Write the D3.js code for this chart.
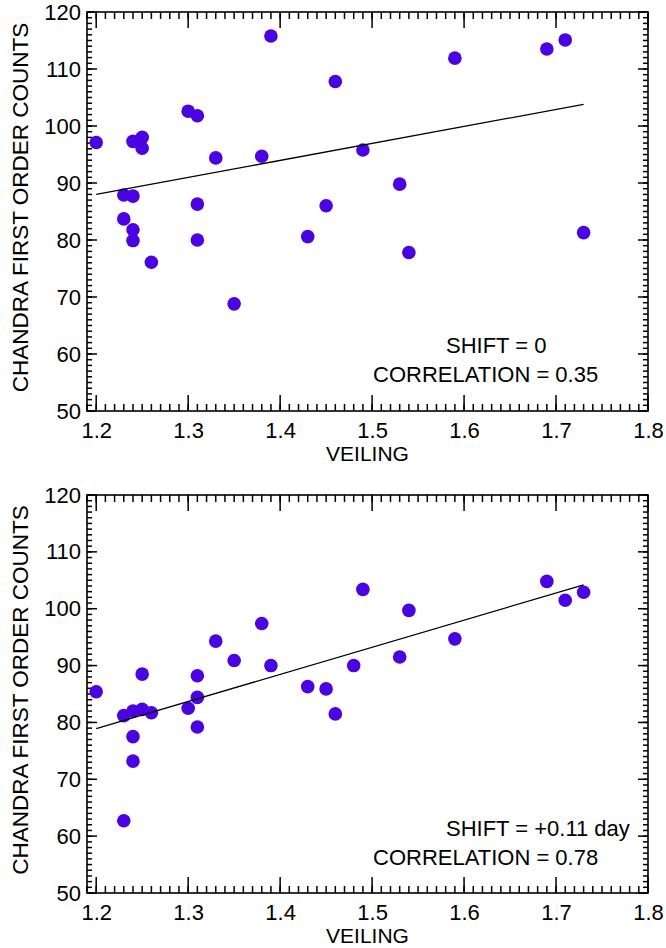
<!DOCTYPE html>
<html>
<head>
<meta charset="utf-8">
<script src="https://cdn.jsdelivr.net/npm/d3@7"></script>
<style>
  body { margin: 0; background: #fff; }
  svg { display: block; }
</style>
</head>
<body>
<svg id="chart" width="666" height="948"></svg>
<script>
// veiling vs chandra counts
var veilingTop = [1.20, 1.23, 1.24, 1.23, 1.24, 1.25, 1.25, 1.30, 1.31, 1.33, 1.38, 1.39, 1.31, 1.45,
                  1.46, 1.49, 1.53, 1.59, 1.69, 1.71, 1.24, 1.24, 1.26, 1.31, 1.35, 1.43, 1.54, 1.73];
var countsTop  = [97.1, 87.9, 87.7, 83.7, 97.3, 98.0, 96.1, 102.6, 101.8, 94.4, 94.7, 115.8, 86.3, 86.0,
                  107.8, 95.8, 89.8, 111.9, 113.5, 115.1, 81.8, 79.9, 76.1, 80.0, 68.8, 80.6, 77.8, 81.3];

var veilingBottom = [1.20, 1.23, 1.23, 1.24, 1.24, 1.24, 1.25, 1.25, 1.26, 1.30, 1.31, 1.31, 1.31, 1.33,
                     1.35, 1.38, 1.39, 1.43, 1.45, 1.46, 1.48, 1.49, 1.53, 1.54, 1.59, 1.69, 1.71, 1.73];
var countsBottom  = [85.4, 81.2, 62.7, 82.0, 77.5, 73.2, 88.5, 82.3, 81.7, 82.5, 88.2, 84.4, 79.2, 94.3,
                     90.9, 97.4, 90.0, 86.3, 85.9, 81.5, 90.0, 103.4, 91.5, 99.7, 94.7, 104.8, 101.5, 102.9];

// fitted lines (end points)
var fitTopX = [1.20, 1.73], fitTopY = [88.0, 103.8];
var fitBottomX = [1.20, 1.73], fitBottomY = [78.9, 104.2];

var xTickLabels = [1.2, 1.3, 1.4, 1.5, 1.6, 1.7, 1.8];
var yTickLabels = [50, 60, 70, 80, 90, 100, 110, 120];

var shiftLabels = ["SHIFT = 0", "SHIFT = +0.11 day"];
var corrLabels = ["CORRELATION = 0.35", "CORRELATION = 0.78"];

var FONT = "'Liberation Sans', Arial, Helvetica, sans-serif";
var FS = 22;
var DOT = "#4a04e2";

var svg = d3.select("#chart");

var left = 87, right = 648;

// ticks drawn by hand as plain lines, inward on all four sides
function tickComb(g, vals, scale, orient, pos, len){
    g.append("g").selectAll("line")
	.data(vals)
	.join("line")
	.attr("x1", function(d){ return orient === "h" ? scale(d) : pos; })
	.attr("x2", function(d){ return orient === "h" ? scale(d) : pos + len; })
	.attr("y1", function(d){ return orient === "h" ? pos : scale(d); })
	.attr("y2", function(d){ return orient === "h" ? pos + len : scale(d); })
	.attr("stroke", "#000")
	.attr("stroke-width", 1.5);
}

function drawPanel(top, bottom, xs, ys, fx, fy, shiftTxt, corrTxt){

    var x = d3.scaleLinear().domain([1.19, 1.8]).range([left, right]);
    var y = d3.scaleLinear().domain([50, 120]).range([bottom, top]);

    var xMinor = d3.range(119, 181, 1).map(function(v){ return v / 100; });
    var yMinor = d3.range(50, 121, 1);

    var g = svg.append("g");

    tickComb(g, xMinor, x, "h", bottom, -7);
    tickComb(g, xTickLabels, x, "h", bottom, -16);
    tickComb(g, xMinor, x, "h", top, 7);
    tickComb(g, xTickLabels, x, "h", top, 16);
    tickComb(g, yMinor, y, "v", left, 5);
    tickComb(g, yTickLabels, y, "v", left, 10);
    tickComb(g, yMinor, y, "v", right, -5);
    tickComb(g, yTickLabels, y, "v", right, -10);

    // labels via d3 axes, tick lines hidden
    g.append("g").attr("transform", "translate(0," + bottom + ")")
	.call(d3.axisBottom(x).tickValues(xTickLabels).tickSize(0).tickPadding(11).tickFormat(d3.format(".1f")))
	.call(function(s){ s.select(".domain").remove(); s.selectAll(".tick line").remove(); })
	.attr("font-family", FONT).attr("font-size", FS)
	.selectAll("text").attr("fill", "#000");
    g.append("g").attr("transform", "translate(" + left + ",0)")
	.call(d3.axisLeft(y).tickValues(yTickLabels).tickSize(0).tickPadding(6).tickFormat(d3.format("d")))
	.call(function(s){ s.select(".domain").remove(); s.selectAll(".tick line").remove(); })
	.attr("font-family", FONT).attr("font-size", FS)
	.selectAll("text").attr("fill", "#000");

    // frame
    g.append("rect")
	.attr("x", left).attr("y", top)
	.attr("width", right - left).attr("height", bottom - top)
	.attr("fill", "none").attr("stroke", "#000").attr("stroke-width", 1.6);

    // dots
    g.append("g").selectAll("circle")
	.data(d3.zip(xs, ys))
	.join("circle")
	.attr("cx", function(d){ return x(d[0]); })
	.attr("cy", function(d){ return y(d[1]); })
	.attr("r", 6.8)
	.attr("fill", DOT);

    // fit line
    g.append("path")
	.datum(d3.zip(fx, fy))
	.attr("d", d3.line().x(function(d){ return x(d[0]); }).y(function(d){ return y(d[1]); }))
	.attr("fill", "none").attr("stroke", "#000").attr("stroke-width", 1.3);

    // titles
    g.append("text")
	.attr("x", (left + right) / 2).attr("y", bottom + 50)
	.attr("text-anchor", "middle")
	.attr("font-family", FONT).attr("font-size", 21)
	.text("VEILING");

    g.append("text")
	.attr("transform", "translate(28," + ((top + bottom) / 2 - 4) + ") rotate(-90)")
	.attr("text-anchor", "middle")
	.attr("font-family", FONT).attr("font-size", 22.5)
	.text("CHANDRA FIRST ORDER COUNTS");

    g.append("text")
	.attr("x", 446).attr("y", top + 341)
	.attr("font-family", FONT).attr("font-size", FS)
	.text(shiftTxt);
    g.append("text")
	.attr("x", 373).attr("y", top + 370)
	.attr("font-family", FONT).attr("font-size", FS)
	.text(corrTxt);
}

drawPanel(12, 411, veilingTop, countsTop, fitTopX, fitTopY, shiftLabels[0], corrLabels[0]);
drawPanel(495, 893, veilingBottom, countsBottom, fitBottomX, fitBottomY, shiftLabels[1], corrLabels[1]);
</script>
</body>
</html>
